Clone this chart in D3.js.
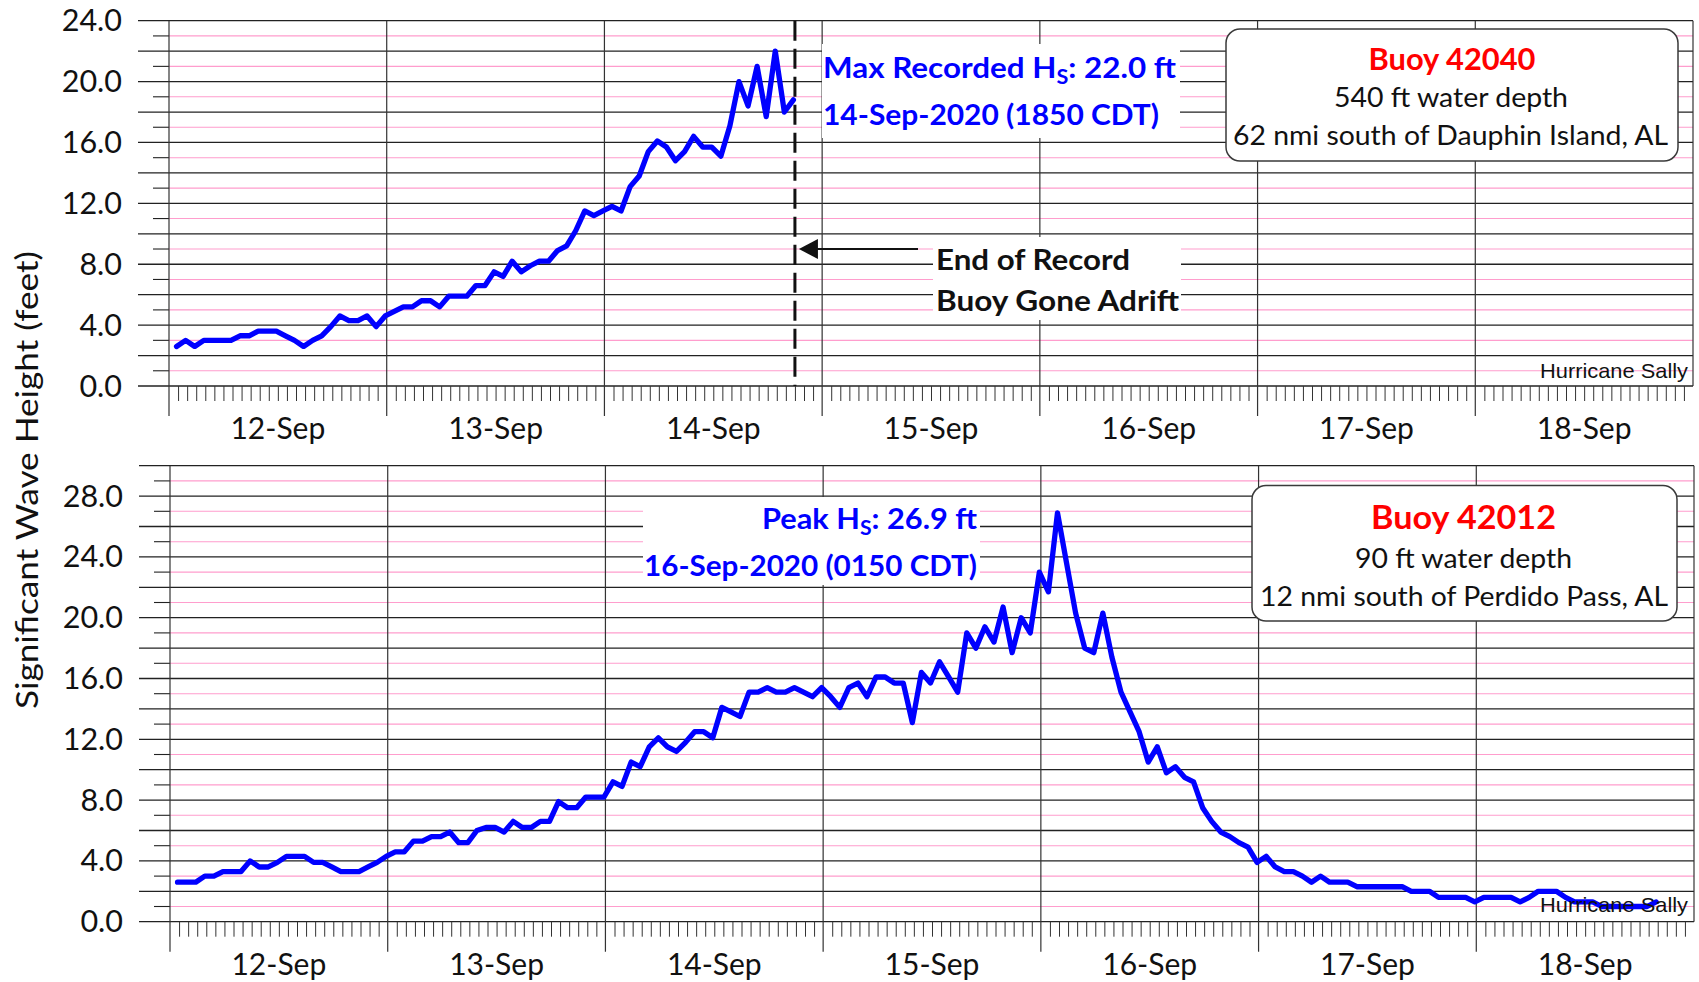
<!DOCTYPE html>
<html>
<head>
<meta charset="UTF-8">
<title>Hurricane Sally - Significant Wave Height</title>
<style>
  body { margin: 0; background: #fff; }
  svg { display: block; }
  text { font-family: Lato, "Open Sans", sans-serif; fill: #111; }
</style>
</head>
<body>
<div id="chart"></div>
<script src="https://cdn.jsdelivr.net/npm/d3@7/dist/d3.min.js"></script>
<script>
// hourly readings, first one at 12-Sep-2020 00:50 CDT
var firstReading = Date.UTC(2020, 8, 12, 0, 50);

// Buoy 42040 (record ends 14-Sep evening)
var buoy42040 = [2.6, 3.0, 2.6, 3.0, 3.0, 3.0, 3.0, 3.3, 3.3, 3.6,
  3.6, 3.6, 3.3, 3.0, 2.6, 3.0, 3.3, 3.9, 4.6, 4.3,
  4.3, 4.6, 3.9, 4.6, 4.9, 5.2, 5.2, 5.6, 5.6, 5.2,
  5.9, 5.9, 5.9, 6.6, 6.6, 7.5, 7.2, 8.2, 7.5, 7.9,
  8.2, 8.2, 8.9, 9.2, 10.2, 11.5, 11.2, 11.5, 11.8, 11.5,
  13.1, 13.8, 15.4, 16.1, 15.7, 14.8, 15.4, 16.4, 15.7, 15.7,
  15.1, 17.1, 20.0, 18.4, 21.0, 17.7, 22.0, 18.0, 18.8];

// Buoy 42012
var buoy42012 = [2.6, 2.6, 2.6, 3.0, 3.0, 3.3, 3.3, 3.3, 4.0, 3.6,
  3.6, 3.9, 4.3, 4.3, 4.3, 3.9, 3.9, 3.6, 3.3, 3.3,
  3.3, 3.6, 3.9, 4.3, 4.6, 4.6, 5.3, 5.3, 5.6, 5.6,
  5.9, 5.2, 5.2, 6.0, 6.2, 6.2, 5.9, 6.6, 6.2, 6.2,
  6.6, 6.6, 7.9, 7.5, 7.5, 8.2, 8.2, 8.2, 9.2, 8.9,
  10.5, 10.2, 11.5, 12.1, 11.5, 11.2, 11.8, 12.5, 12.5, 12.1,
  14.1, 13.8, 13.5, 15.1, 15.1, 15.4, 15.1, 15.1, 15.4, 15.1,
  14.8, 15.4, 14.8, 14.1, 15.4, 15.7, 14.8, 16.1, 16.1, 15.7,
  15.7, 13.1, 16.4, 15.7, 17.1, 16.1, 15.1, 19.0, 18.0, 19.4,
  18.4, 20.7, 17.7, 20.0, 19.0, 23.0, 21.7, 26.9, 23.6, 20.3,
  18.0, 17.7, 20.3, 17.4, 15.1, 13.8, 12.5, 10.5, 11.5, 9.8,
  10.2, 9.5, 9.2, 7.5, 6.6, 5.9, 5.6, 5.2, 4.9, 3.9,
  4.3, 3.6, 3.3, 3.3, 3.0, 2.6, 3.0, 2.6, 2.6, 2.6,
  2.3, 2.3, 2.3, 2.3, 2.3, 2.3, 2.0, 2.0, 2.0, 1.6,
  1.6, 1.6, 1.6, 1.3, 1.6, 1.6, 1.6, 1.6, 1.3, 1.6,
  2.0, 2.0, 2.0, 1.6, 1.3, 1.3, 1.3, 1.0, 1.0, 1.0,
  1.0, 1.0, 1.0, 1.3];

var dayLabels = ["12-Sep", "13-Sep", "14-Sep", "15-Sep", "16-Sep", "17-Sep", "18-Sep"];
var yLabelsTop = [0, 4, 8, 12, 16, 20, 24];
var yLabelsBottom = [0, 4, 8, 12, 16, 20, 24, 28];

var W = 1699, H = 982;
var HOUR = 3600 * 1000;
var day0 = new Date(Date.UTC(2020, 8, 12));
var day7 = new Date(Date.UTC(2020, 8, 19));

var svg = d3.select("#chart").append("svg")
  .attr("width", W)
  .attr("height", H);

function toSeries(vals) {
  return vals.map(function(v, i) {
    return { t: new Date(firstReading + i * HOUR), v: v };
  });
}

// one chart panel: grid, axes, labels
function panel(o) {
  var x = d3.scaleUtc().domain([day0, day7]).range([o.left, o.right]);
  var y = d3.scaleLinear().domain([0, o.yMax]).range([o.bottom, o.top]);
  var g = svg.append("g");

  var odd = d3.range(1, o.yMax, 2);
  var even = d3.range(0, o.yMax + 1, 2);

  // pink grid at odd feet + small ticks
  g.selectAll("line.pink").data(odd).join("line")
    .attr("x1", o.left).attr("x2", o.right)
    .attr("y1", y).attr("y2", y)
    .attr("stroke", "#ff9dcd").attr("stroke-width", 1.1);
  g.selectAll("line.minor").data(odd).join("line")
    .attr("x1", o.left - 16).attr("x2", o.left)
    .attr("y1", y).attr("y2", y)
    .attr("stroke", "#222").attr("stroke-width", 1.1);
  // dark grid at even feet, running out past the axis
  g.selectAll("line.major").data(even).join("line")
    .attr("x1", o.left - 31).attr("x2", o.right)
    .attr("y1", y).attr("y2", y)
    .attr("stroke", "#222").attr("stroke-width", 1.3);

  // hourly ticks under the axis
  var hours = d3.utcHour.range(day0, day7).filter(function(d) { return d.getUTCHours() !== 0; });
  var xAxis = d3.axisBottom(x).tickValues(hours).tickSize(15).tickFormat("");
  var ax = g.append("g").attr("transform", "translate(0," + o.bottom + ")").call(xAxis);
  ax.select(".domain").remove();
  ax.selectAll(".tick line").attr("stroke", "#333").attr("stroke-width", 1);

  // day lines (the first one is the y axis line)
  var days = d3.utcDay.range(day0, day7);
  g.selectAll("line.day").data(days).join("line")
    .attr("x1", x).attr("x2", x)
    .attr("y1", o.top).attr("y2", o.bottom + 30)
    .attr("stroke", "#333").attr("stroke-width", 1.2);
  // right frame
  g.append("line")
    .attr("x1", o.right).attr("x2", o.right)
    .attr("y1", o.top).attr("y2", o.bottom)
    .attr("stroke", "#333").attr("stroke-width", 1.2);

  // labels
  g.selectAll("text.ylab").data(o.yLabels).join("text")
    .attr("x", o.left - 47)
    .attr("y", function(d) { return y(d) + 10.5; })
    .attr("text-anchor", "end")
    .attr("font-size", 30.5)
    .text(function(d) { return d.toFixed(1); });
  g.selectAll("text.xlab").data(days).join("text")
    .attr("x", function(d) { return x(d3.utcHour.offset(d, 12)); })
    .attr("y", o.bottom + 53)
    .attr("text-anchor", "middle")
    .attr("font-size", 30)
    .text(function(d, i) { return dayLabels[i]; });

  return { g: g, x: x, y: y };
}

function drawLine(p, vals) {
  var line = d3.line()
    .x(function(d) { return p.x(d.t); })
    .y(function(d) { return p.y(d.v); });
  p.g.append("path")
    .datum(toSeries(vals))
    .attr("d", line)
    .attr("fill", "none")
    .attr("stroke", "#0000ff")
    .attr("stroke-width", 5.3)
    .attr("stroke-linejoin", "round")
    .attr("stroke-linecap", "round");
}

function whiteBox(g, x0, y0, x1, y1) {
  g.append("rect").attr("x", x0).attr("y", y0)
    .attr("width", x1 - x0).attr("height", y1 - y0)
    .attr("fill", "#fff");
}

function txt(g, s, x, y, opt) {
  var t = g.append("text").attr("x", x).attr("y", y)
    .attr("font-size", opt.size)
    .attr("text-anchor", opt.anchor || "start")
    .text(s);
  if (opt.bold) t.attr("font-weight", "bold");
  if (opt.color) t.style("fill", opt.color);
  if (opt.len) t.attr("textLength", opt.len).attr("lengthAdjust", "spacingAndGlyphs");
  if (opt.family) t.style("font-family", opt.family);
  return t;
}

// "...Hs: ..." with subscript S
function hsText(g, pre, post, x, y, anchor, len) {
  var t = g.append("text").attr("x", x).attr("y", y)
    .attr("font-size", 29).attr("font-weight", "bold")
    .attr("text-anchor", anchor)
    .attr("textLength", len).attr("lengthAdjust", "spacingAndGlyphs")
    .style("fill", "#0000ff");
  t.append("tspan").text(pre + "H");
  t.append("tspan").attr("font-size", 20).attr("dy", 6).text("S");
  t.append("tspan").attr("dy", -6).text(": " + post);
}

function legendBox(g, x0, y0, x1, y1, lines) {
  g.append("rect").attr("x", x0).attr("y", y0)
    .attr("width", x1 - x0).attr("height", y1 - y0)
    .attr("rx", 14).attr("ry", 14)
    .attr("fill", "#fff").attr("stroke", "#3a3a3a").attr("stroke-width", 1.5);
  lines.forEach(function(l) {
    txt(g, l.s, l.cx, l.y, { size: l.size, anchor: "middle", bold: l.bold, color: l.color, len: l.len });
  });
}

var narrow = "'Liberation Sans Narrow', 'Arial Narrow', 'Liberation Sans', sans-serif";

// ---------- top: Buoy 42040 ----------
var upper = panel({ left: 169, right: 1693, top: 20.7, bottom: 386, yMax: 24, yLabels: yLabelsTop });

whiteBox(upper.g, 822, 44, 1180, 138);
whiteBox(upper.g, 933, 237, 1181, 320);
drawLine(upper, buoy42040);

var endRecord = new Date(Date.UTC(2020, 8, 14, 21));
var xEnd = upper.x(endRecord);
upper.g.append("line")
  .attr("x1", xEnd).attr("x2", xEnd)
  .attr("y1", upper.y(24)).attr("y2", upper.y(0))
  .attr("stroke", "#111").attr("stroke-width", 3)
  .attr("stroke-dasharray", "20,8");

// arrow pointing back at the end of record
var arrowY = upper.y(9);
upper.g.append("line")
  .attr("x1", 918).attr("x2", xEnd + 18)
  .attr("y1", arrowY).attr("y2", arrowY)
  .attr("stroke", "#111").attr("stroke-width", 2.2);
upper.g.append("path")
  .attr("d", "M" + (xEnd + 4) + "," + arrowY + " l19,-10 l0,20 z")
  .attr("fill", "#111");

hsText(upper.g, "Max Recorded ", "22.0 ft", 823, 77.5, "start", 353);
txt(upper.g, "14-Sep-2020 (1850 CDT)", 823, 125, { size: 29, bold: true, color: "#0000ff", len: 336 });
txt(upper.g, "End of Record", 936, 270, { size: 29, bold: true, len: 194 });
txt(upper.g, "Buoy Gone Adrift", 936, 310.5, { size: 29, bold: true, len: 243 });

legendBox(upper.g, 1226, 29, 1678, 161, [
  { s: "Buoy 42040", cx: 1452, y: 70, size: 30, bold: true, color: "#ff0000", len: 167 },
  { s: "540 ft water depth", cx: 1451, y: 106.5, size: 27, len: 234 },
  { s: "62 nmi south of Dauphin Island, AL", cx: 1450.5, y: 145, size: 27, len: 435 }
]);
txt(upper.g, "Hurricane Sally", 1688, 378, { size: 21, anchor: "end", len: 148, family: narrow });

// ---------- bottom: Buoy 42012 ----------
var lower = panel({ left: 170, right: 1694, top: 465.7, bottom: 921.7, yMax: 30, yLabels: yLabelsBottom });

whiteBox(lower.g, 643, 497, 980, 585);
drawLine(lower, buoy42012);

hsText(lower.g, "Peak ", "26.9 ft", 977, 529, "end", 215);
txt(lower.g, "16-Sep-2020 (0150 CDT)", 977, 576, { size: 29, bold: true, color: "#0000ff", anchor: "end", len: 333 });

legendBox(lower.g, 1252, 485.5, 1677, 621, [
  { s: "Buoy 42012", cx: 1463.5, y: 529, size: 33, bold: true, color: "#ff0000", len: 185 },
  { s: "90 ft water depth", cx: 1463.5, y: 568, size: 27, len: 217 },
  { s: "12 nmi south of Perdido Pass, AL", cx: 1464, y: 605.5, size: 27, len: 408 }
]);
txt(lower.g, "Hurricane Sally", 1688, 912, { size: 21, anchor: "end", len: 148, family: narrow });

// shared y title
svg.append("text")
  .attr("transform", "translate(38,480) rotate(-90)")
  .attr("text-anchor", "middle")
  .attr("font-size", 30)
  .attr("textLength", 458).attr("lengthAdjust", "spacingAndGlyphs")
  .text("Significant Wave Height (feet)");
</script>
</body>
</html>
